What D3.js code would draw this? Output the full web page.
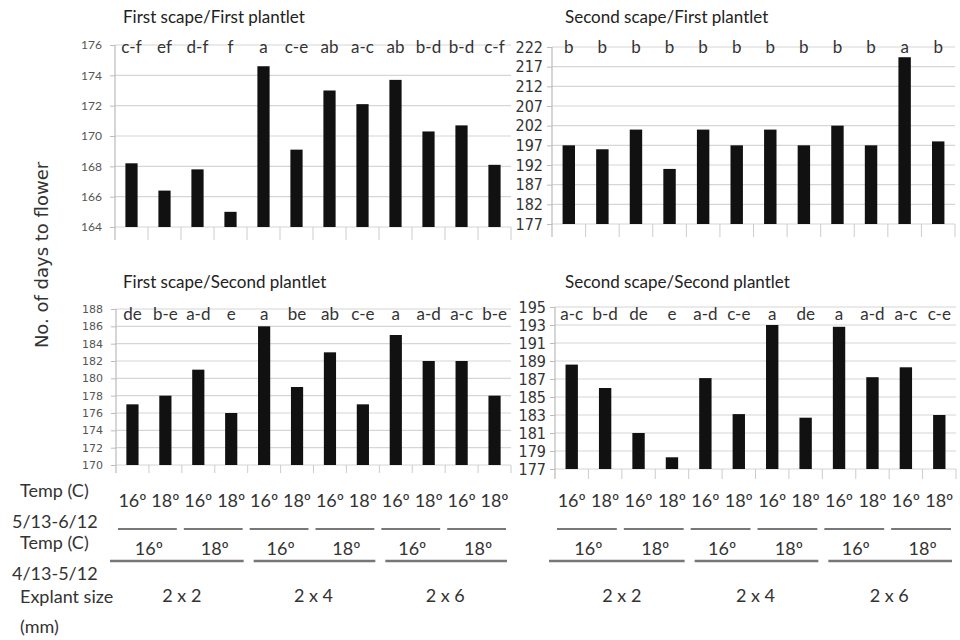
<!DOCTYPE html>
<html>
<head>
<meta charset="utf-8">
<script src="https://cdn.jsdelivr.net/npm/d3@7"></script>
<style>
  body { margin: 0; background: #fff; }
  text { fill: #333; }
</style>
</head>
<body>
<div id="wrapper"></div>
<script>
// 1. Data

const panelTitles = [
    "First scape/First plantlet",
    "Second scape/First plantlet",
    "First scape/Second plantlet",
    "Second scape/Second plantlet",
]

const fsfpValues = [168.2, 166.4, 167.8, 165.0, 174.6, 169.1, 173.0, 172.1, 173.7, 170.3, 170.7, 168.1]
const fsfpLetters = ["c-f", "ef", "d-f", "f", "a", "c-e", "ab", "a-c", "ab", "b-d", "b-d", "c-f"]
const fsfpTicks = [164, 166, 168, 170, 172, 174, 176]

const ssfpValues = [197, 196, 201, 191, 201, 197, 201, 197, 202, 197, 219.4, 198]
const ssfpLetters = ["b", "b", "b", "b", "b", "b", "b", "b", "b", "b", "a", "b"]
const ssfpTicks = [177, 182, 187, 192, 197, 202, 207, 212, 217, 222]

const fsspValues = [177, 178, 181, 176, 186, 179, 183, 177, 185, 182, 182, 178]
const fsspLetters = ["de", "b-e", "a-d", "e", "a", "be", "ab", "c-e", "a", "a-d", "a-c", "b-e"]
const fsspTicks = [170, 172, 174, 176, 178, 180, 182, 184, 186, 188]

const ssspValues = [188.6, 186.0, 181.0, 178.3, 187.1, 183.1, 193.0, 182.7, 192.8, 187.2, 188.3, 183.0]
const ssspLetters = ["a-c", "b-d", "de", "e", "a-d", "c-e", "a", "de", "a", "a-d", "a-c", "c-e"]
const ssspTicks = [177, 179, 181, 183, 185, 187, 189, 191, 193, 195]

const lateTemps = ["16º", "18º", "16º", "18º", "16º", "18º", "16º", "18º", "16º", "18º", "16º", "18º"]
const earlyTemps = ["16º", "18º", "16º", "18º", "16º", "18º"]
const explantSizes = ["2 x 2", "2 x 4", "2 x 6"]
const rowLabels = ["Temp (C)", "5/13-6/12", "Temp (C)", "4/13-5/12", "Explant size", "(mm)"]

// 2. Dimensions

const dimensions = { width: 960, height: 640 }

const calibriLike = "Lato, 'Open Sans', sans-serif"
const narrowFont = "'Liberation Sans Narrow', 'DejaVu Sans Condensed', sans-serif"

const panels = [
    { title: panelTitles[0], values: fsfpValues, letters: fsfpLetters, ticks: fsfpTicks,
      x0: 115, x1: 511, yTop: 45, yBottom: 227, titleX: 123, titleY: 23, letterY: 53,
      tickFont: calibriLike, tickSize: 12, tickColor: "#555", catTick: 13 },
    { title: panelTitles[1], values: ssfpValues, letters: ssfpLetters, ticks: ssfpTicks,
      x0: 552, x1: 955, yTop: 47, yBottom: 224, titleX: 565, titleY: 23, letterY: 53,
      tickFont: narrowFont, tickSize: 16, tickColor: "#333", catTick: 13 },
    { title: panelTitles[2], values: fsspValues, letters: fsspLetters, ticks: fsspTicks,
      x0: 116, x1: 511, yTop: 309, yBottom: 465, titleX: 123, titleY: 288, letterY: 320,
      tickFont: "'DejaVu Sans', Verdana, sans-serif", tickSize: 11, tickColor: "#555", catTick: 8 },
    { title: panelTitles[3], values: ssspValues, letters: ssspLetters, ticks: ssspTicks,
      x0: 555, x1: 956, yTop: 307, yBottom: 469, titleX: 565, titleY: 288, letterY: 320,
      tickFont: narrowFont, tickSize: 16, tickColor: "#333", catTick: 10 },
]

// 3. Draw canvas

const wrapper = d3.select("#wrapper")
    .append("svg")
    .attr("width", dimensions.width)
    .attr("height", dimensions.height)
    .style("font-family", calibriLike)

// 4. Draw panels

function drawPanel(cfg) {
    const n = cfg.values.length
    const xScale = d3.scaleBand()
        .domain(d3.range(n))
        .range([cfg.x0, cfg.x1])
    const yScale = d3.scaleLinear()
        .domain(d3.extent(cfg.ticks))
        .range([cfg.yBottom, cfg.yTop])

    const g = wrapper.append("g")

    // gridlines
    g.selectAll(".grid")
        .data(cfg.ticks)
        .join("line")
        .attr("class", "grid")
        .attr("x1", cfg.x0)
        .attr("x2", cfg.x1)
        .attr("y1", d => yScale(d))
        .attr("y2", d => yScale(d))
        .attr("stroke", "#d6d6d6")
        .attr("stroke-width", 1.2)

    // y axis
    const yAxis = d3.axisLeft(yScale)
        .tickValues(cfg.ticks)
        .tickSize(5)
        .tickPadding(cfg.tickFont === narrowFont ? 4 : 8)
    const axisG = g.append("g")
        .attr("transform", `translate(${cfg.x0},0)`)
        .call(yAxis)
    axisG.select(".domain").remove()
    axisG.selectAll(".tick line").attr("stroke", "#bbb")
    axisG.selectAll(".tick text")
        .style("font-family", cfg.tickFont)
        .style("font-size", `${cfg.tickSize}px`)
        .style("fill", cfg.tickColor)

    g.append("line")
        .attr("x1", cfg.x0).attr("x2", cfg.x0)
        .attr("y1", cfg.yTop).attr("y2", cfg.yBottom + cfg.catTick)
        .attr("stroke", "#bbb")
        .attr("stroke-width", 1.2)

    // category ticks
    g.selectAll(".cat-tick")
        .data(d3.range(1, n + 1))
        .join("line")
        .attr("class", "cat-tick")
        .attr("x1", i => cfg.x0 + i * xScale.step())
        .attr("x2", i => cfg.x0 + i * xScale.step())
        .attr("y1", cfg.yBottom)
        .attr("y2", cfg.yBottom + cfg.catTick)
        .attr("stroke", "#ccc")

    // bars
    const barWidth = xScale.bandwidth() * 0.37
    g.selectAll(".bar")
        .data(cfg.values)
        .join("rect")
        .attr("class", "bar")
        .attr("x", (d, i) => xScale(i) + (xScale.bandwidth() - barWidth) / 2)
        .attr("y", d => yScale(d))
        .attr("width", barWidth)
        .attr("height", d => yScale.range()[0] - yScale(d))
        .attr("fill", "#111")

    // significance letters
    g.selectAll(".letter")
        .data(cfg.letters)
        .join("text")
        .attr("class", "letter")
        .attr("x", (d, i) => xScale(i) + xScale.bandwidth() / 2)
        .attr("y", cfg.letterY)
        .attr("text-anchor", "middle")
        .style("font-size", "17px")
        .text(d => d)

    // title
    g.append("text")
        .attr("x", cfg.titleX)
        .attr("y", cfg.titleY)
        .style("font-size", "17px")
        .style("fill", "#222")
        .text(cfg.title)

    return xScale
}

const xScales = panels.map(drawPanel)

// 5. Draw peripherals: treatment rows under the bottom panels

function drawTreatments(xScale) {
    const step = xScale.step()
    const x0 = xScale.range()[0]
    const g = wrapper.append("g")

    g.selectAll(".late")
        .data(lateTemps)
        .join("text")
        .attr("x", (d, i) => xScale(i) + xScale.bandwidth() / 2)
        .attr("y", 507)
        .attr("text-anchor", "middle")
        .style("font-size", "18px")
        .text(d => d)

    g.selectAll(".pair-line")
        .data(earlyTemps)
        .join("line")
        .attr("x1", (d, i) => x0 + i * 2 * step + 2)
        .attr("x2", (d, i) => x0 + (i + 1) * 2 * step - 5)
        .attr("y1", 529)
        .attr("y2", 529)
        .attr("stroke", "#777")
        .attr("stroke-width", 2)

    g.selectAll(".early")
        .data(earlyTemps)
        .join("text")
        .attr("x", (d, i) => x0 + (i * 2 + 1) * step)
        .attr("y", 555)
        .attr("text-anchor", "middle")
        .style("font-size", "18px")
        .text(d => d)

    g.selectAll(".group-line")
        .data(explantSizes)
        .join("line")
        .attr("x1", (d, i) => x0 + i * 4 * step - (i === 0 ? 6 : -6))
        .attr("x2", (d, i) => x0 + (i + 1) * 4 * step - 4)
        .attr("y1", 561)
        .attr("y2", 561)
        .attr("stroke", "#777")
        .attr("stroke-width", 2.5)

    g.selectAll(".size")
        .data(explantSizes)
        .join("text")
        .attr("x", (d, i) => x0 + (i * 4 + 2) * step)
        .attr("y", 602)
        .attr("text-anchor", "middle")
        .style("font-size", "18px")
        .text(d => d)
}

drawTreatments(xScales[2])
drawTreatments(xScales[3])

// row labels on the left
const rowLabelPos = [[20, 497], [12, 528], [20, 549], [12, 580], [20, 603], [20, 633]]
wrapper.selectAll(".row-label")
    .data(rowLabels)
    .join("text")
    .attr("class", "row-label")
    .attr("x", (d, i) => rowLabelPos[i][0])
    .attr("y", (d, i) => rowLabelPos[i][1])
    .style("font-size", "18px")
    .text(d => d)

// y axis title
wrapper.append("text")
    .attr("transform", "translate(48,255) rotate(-90)")
    .attr("text-anchor", "middle")
    .style("font-family", "'DejaVu Sans', Verdana, sans-serif")
    .style("font-size", "18px")
    .text("No. of days to flower")
</script>
</body>
</html>
